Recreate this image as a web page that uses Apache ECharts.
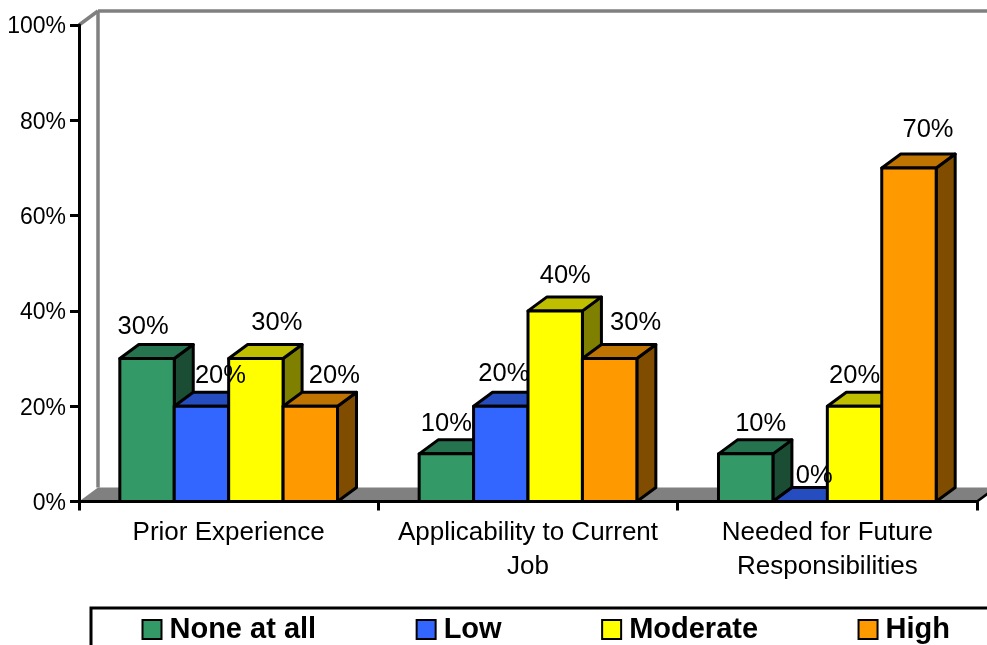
<!DOCTYPE html>
<html>
<head>
<meta charset="utf-8">
<style>html,body{margin:0;padding:0;background:#fff}#chart{width:987px;height:645px}</style>
<script src="https://cdn.jsdelivr.net/npm/echarts@6/dist/echarts.min.js"></script>
</head>
<body>
<div id="chart"></div>
<script>
const categories = ['Prior Experience', 'Applicability to Current Job', 'Needed for Future Responsibilities'];
const seriesNames = ['None at all', 'Low', 'Moderate', 'High'];
const noneAtAll = [30, 10, 10];
const low = [20, 20, 0];
const moderate = [30, 40, 20];
const high = [20, 30, 70];
const yTicks = { min: 0, max: 100, interval: 20 };

// Front, top and side face colours for each series.
const faces = [
  { front: '#339966', top: '#267350', side: '#1a4d33' },
  { front: '#3366ff', top: '#264dbf', side: '#1a3380' },
  { front: '#ffff00', top: '#bfbf00', side: '#808000' },
  { front: '#ff9900', top: '#bf7300', side: '#804d00' }
];

// Pixel nudges of each value label from the centre of its bar's front top edge.
const labelNudgeX = [[-4, 19, 21, 24], [0, 3, 10, 26], [15, 14, 0, 19]];
const labelNudgeY = [[-32, -30, -36, -30], [-30, -32, -35, -36], [-30, -26, -30, -38]];

const DEPTH_X = 19;
const DEPTH_Y = -14;
const FONT = '"Liberation Sans", Arial, sans-serif';
const EDGE = 3;

function poly(points, fill, stroke, width) {
  return {
    type: 'polygon',
    shape: { points },
    style: { fill, stroke, lineWidth: width, lineJoin: 'round' }
  };
}

// One 3D column: side and top faces behind a flat front face, plus its value label.
function renderColumn(seriesIndex) {
  return function (params, api) {
    const cat = api.value(0);
    const val = api.value(1);
    const band = api.size([1, 0])[0];
    const w = band / 5.5;
    const centre = api.coord([cat, val]);
    const base = api.coord([cat, 0])[1];
    const x0 = centre[0] - 2 * w + seriesIndex * w;
    const x1 = x0 + w;
    const y = centre[1];
    const c = faces[seriesIndex];
    const children = [
      poly([[x1, base], [x1 + DEPTH_X, base + DEPTH_Y], [x1 + DEPTH_X, y + DEPTH_Y], [x1, y]], c.side, '#000', EDGE),
      poly([[x0, y], [x0 + DEPTH_X, y + DEPTH_Y], [x1 + DEPTH_X, y + DEPTH_Y], [x1, y]], c.top, '#000', EDGE),
      poly([[x0, base], [x0, y], [x1, y], [x1, base]], c.front, '#000', EDGE),
      {
        type: 'text',
        z2: 100,
        style: {
          x: (x0 + x1) / 2 + labelNudgeX[cat][seriesIndex],
          y: y + labelNudgeY[cat][seriesIndex],
          text: val + '%',
          fill: '#000',
          font: '25.5px ' + FONT,
          align: 'center',
          verticalAlign: 'middle'
        }
      }
    ];
    return { type: 'group', children };
  };
}

// Grey floor and the back wall's frame, derived from the grid rectangle.
function renderBackdrop(params) {
  const g = params.coordSys;
  const right = g.x + g.width;
  const bottom = g.y + g.height;
  const wallX = g.x + DEPTH_X;
  const wallTop = g.y + DEPTH_Y;
  const floorBack = bottom + DEPTH_Y;
  const grey = '#808080';
  const line = (x1, y1, x2, y2) => ({
    type: 'line',
    shape: { x1, y1, x2, y2 },
    style: { stroke: grey, lineWidth: 3.5 }
  });
  return {
    type: 'group',
    children: [
      poly([[g.x, bottom], [wallX, floorBack], [right + DEPTH_X, floorBack], [right, bottom]], grey, null, 0),
      line(wallX, wallTop, wallX, floorBack),
      line(wallX, wallTop, right + DEPTH_X, wallTop),
      line(g.x, g.y, wallX, wallTop),
      { type: 'line', shape: { x1: right, y1: bottom, x2: right + DEPTH_X, y2: floorBack }, style: { stroke: '#000', lineWidth: 2.5 } }
    ]
  };
}

const columnValues = [noneAtAll, low, moderate, high];

const chart = echarts.init(document.getElementById('chart'), null, { renderer: 'canvas' });
chart.setOption({
  animation: false,
  backgroundColor: '#fff',
  grid: { left: 79, top: 25, width: 898, height: 476.5 },
  xAxis: {
    type: 'category',
    data: categories,
    z: 3,
    axisLine: { lineStyle: { color: '#000', width: EDGE } },
    axisTick: { show: true, length: 9, lineStyle: { color: '#000', width: EDGE } },
    axisLabel: {
      color: '#000',
      fontFamily: FONT,
      fontSize: 26,
      margin: 14,
      interval: 0,
      lineHeight: 34,
      // Long names wrap before their last word.
      formatter: (name) => name.replace(/ (Job|Responsibilities)$/, '\n$1')
    }
  },
  yAxis: {
    type: 'value',
    min: yTicks.min,
    max: yTicks.max,
    interval: yTicks.interval,
    z: 3,
    splitLine: { show: false },
    axisLine: { show: true, lineStyle: { color: '#000', width: EDGE } },
    axisTick: { show: true, length: 9, lineStyle: { color: '#000', width: EDGE } },
    axisLabel: {
      color: '#000',
      fontFamily: FONT,
      fontSize: 23,
      margin: 13,
      // Sits the text a little below the tick line.
      verticalAlign: 'top',
      lineHeight: 4,
      formatter: '{value}%'
    }
  },
  legend: {
    data: seriesNames,
    left: 91,
    top: 608,
    width: 1300,
    orient: 'horizontal',
    itemGap: 99.5,
    itemWidth: 19,
    itemHeight: 19,
    icon: 'rect',
    selectedMode: false,
    backgroundColor: '#fff',
    borderColor: '#000',
    borderWidth: 3,
    padding: [7, 300, 30, 50.5],
    itemStyle: { borderColor: '#000', borderWidth: 2 },
    textStyle: { color: '#000', fontFamily: FONT, fontSize: 29, fontWeight: 'bold', padding: [0, 0, 0, 3] }
  },
  series: [
    {
      type: 'custom',
      name: 'backdrop',
      coordinateSystem: 'cartesian2d',
      silent: true,
      renderItem: renderBackdrop,
      data: [[0, 0]]
    }
  ].concat(seriesNames.map((name, i) => ({
    type: 'custom',
    name,
    coordinateSystem: 'cartesian2d',
    itemStyle: { color: faces[i].front },
    renderItem: renderColumn(i),
    encode: { x: 0, y: 1 },
    data: columnValues[i].map((v, c) => [c, v])
  })))
});
</script>
</body>
</html>
